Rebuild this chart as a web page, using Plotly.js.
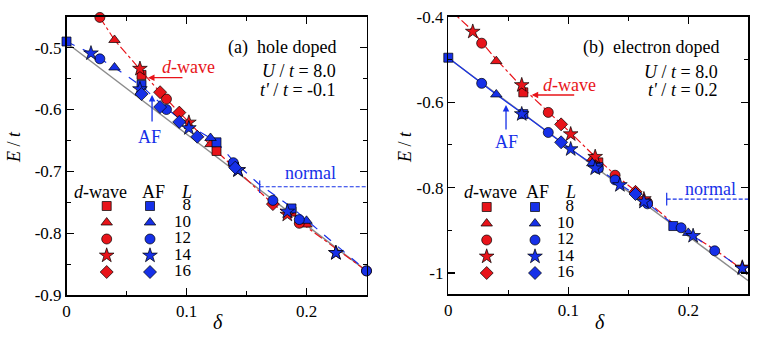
<!DOCTYPE html>
<html>
<head>
<meta charset="utf-8">
<script src="https://cdn.plot.ly/plotly-3.0.1.min.js"></script>
<style>
  body { margin: 0; background: #fff; }
  #chart { width: 763px; height: 350px; }
</style>
</head>
<body>
<div id="chart"></div>
<script>
// ---- data ----
// (a) hole doped, d-wave (red) by system size L
const holeDwaveL8 = { d: [0.0625, 0.125, 0.1875], e: [-0.544, -0.667, -0.765] };
const holeDwaveL10 = { d: [0.04, 0.12, 0.2], e: [-0.4875, -0.656, -0.786] };
const holeDwaveL12 = { d: [0.0278, 0.0833, 0.139, 0.194, 0.25], e: [-0.451, -0.583, -0.688, -0.784, -0.861] };
const holeDwaveL14 = { d: [0.0612, 0.102, 0.143, 0.184, 0.2245], e: [-0.534, -0.621, -0.698, -0.770, -0.832] };
const holeDwaveL16 = { d: [0.078, 0.094, 0.172], e: [-0.572, -0.605, -0.753] };
// (a) hole doped, AF (blue)
const holeAfL8 = { d: [0, 0.0625, 0.125, 0.1875], e: [-0.49, -0.560, -0.653, -0.760] };
const holeAfL10 = { d: [0.04, 0.12, 0.2], e: [-0.532, -0.646, -0.780] };
const holeAfL12 = { d: [0.0278, 0.0833, 0.139, 0.172, 0.194, 0.25], e: [-0.518, -0.600, -0.686, -0.747, -0.778, -0.861] };
const holeAfL14 = { d: [0.0204, 0.0612, 0.102, 0.143, 0.184, 0.2245], e: [-0.509, -0.567, -0.630, -0.698, -0.765, -0.832] };
const holeAfL16 = { d: [0.0625, 0.078, 0.094, 0.109, 0.1406], e: [-0.575, -0.596, -0.620, -0.644, -0.694] };
// (a) fitted curves
const holeGray = { d: [0, 0.25], e: [-0.492, -0.861] };
const holeAfFit = { d: [0, 0.0204, 0.0278, 0.04, 0.0625, 0.083, 0.102, 0.125, 0.139, 0.16, 0.1875, 0.2, 0.2245, 0.25],
                    e: [-0.49, -0.509, -0.518, -0.532, -0.562, -0.598, -0.626, -0.652, -0.683, -0.720, -0.758, -0.779, -0.819, -0.861] };
const holeDwaveFit = { d: [0.0278, 0.04, 0.0625, 0.078, 0.094, 0.102, 0.12, 0.14, 0.172, 0.2, 0.25],
                       e: [-0.451, -0.4875, -0.538, -0.572, -0.605, -0.620, -0.658, -0.695, -0.753, -0.790, -0.861] };
const holeNormal = { d: [0.161, 0.2537], e: [-0.725, -0.725] };

// (b) electron doped, d-wave (red)
const elDwaveL8 = { d: [0.0625, 0.125], e: [-0.577, -0.741] };
const elDwaveL10 = { d: [0.04, 0.12], e: [-0.504, -0.732] };
const elDwaveL12 = { d: [0.0278, 0.0833, 0.139, 0.166], e: [-0.462, -0.624, -0.771, -0.835] };
const elDwaveL14 = { d: [0.0204, 0.0612, 0.102, 0.1224, 0.163, 0.245], e: [-0.435, -0.560, -0.675, -0.728, -0.827, -0.987] };
const elDwaveL16 = { d: [0.094, 0.156], e: [-0.652, -0.810] };
// (b) electron doped, AF (blue)
const elAfL8 = { d: [0, 0.0625, 0.125, 0.1875], e: [-0.496, -0.628, -0.752, -0.890] };
const elAfL10 = { d: [0.04, 0.12, 0.2], e: [-0.582, -0.743, -0.906] };
const elAfL12 = { d: [0.0278, 0.0833, 0.125, 0.139, 0.166, 0.194, 0.222], e: [-0.556, -0.671, -0.755, -0.782, -0.838, -0.894, -0.948] };
const elAfL14 = { d: [0.0612, 0.102, 0.1224, 0.143, 0.163, 0.204, 0.245], e: [-0.628, -0.710, -0.755, -0.794, -0.833, -0.913, -0.989] };
const elAfL16 = { d: [0.094, 0.156], e: [-0.694, -0.815] };
// (b) fitted curves
const elGray = { d: [0, 0.25], e: [-0.497, -1.018] };
const elAfFitSolid = { d: [0, 0.0278, 0.04, 0.0625, 0.0833, 0.094, 0.102, 0.12], e: [-0.496, -0.556, -0.582, -0.628, -0.671, -0.694, -0.710, -0.745] };
const elAfFitDash = { d: [0.12, 0.143, 0.166, 0.1875, 0.2, 0.222, 0.25], e: [-0.745, -0.792, -0.836, -0.887, -0.906, -0.946, -1.0] };
const elDwaveFit = { d: [0, 0.0204, 0.0278, 0.04, 0.0625, 0.0833, 0.094, 0.102, 0.1224, 0.139, 0.156, 0.166, 0.1875, 0.222, 0.25],
                     e: [-0.38, -0.433, -0.46, -0.5, -0.568, -0.622, -0.65, -0.672, -0.728, -0.77, -0.808, -0.832, -0.884, -0.945, -1.002] };
const elNormal = { d: [0.182, 0.2537], e: [-0.827, -0.827] };

const sizesL = [8, 10, 12, 14, 16];
const symbolsL = ['square', 'triangle-up', 'circle', 'star', 'diamond'];
const markerSize = [9, 10, 10, 11, 10];
const xTickVals = [0, 0.1, 0.2];
const xTickText = ['0', '0.1', '0.2'];
const yTickValsA = [-0.9, -0.8, -0.7, -0.6, -0.5];
const yTickTextA = ['-0.9', '-0.8', '-0.7', '-0.6', '-0.5'];
const yTickValsB = [-1, -0.8, -0.6, -0.4];
const yTickTextB = ['-1', '-0.8', '-0.6', '-0.4'];

const RED = '#e8141a';
const BLUE = '#1630e8';
const GRAY = '#8c8c8c';
const FONT = '"Liberation Serif", "DejaVu Serif", serif';
const W = 763, H = 350;
const px = x => x / W;
const py = y => 1 - y / H;

const traces = [];

function line(s, xa, ya, color, dash, width) {
    traces.push({ x: s.d, y: s.e, xaxis: xa, yaxis: ya, mode: 'lines', type: 'scatter',
        line: { color: color, dash: dash, width: width }, hoverinfo: 'skip' });
}

function points(list, xa, ya, color) {
    list.forEach((s, i) => {
        traces.push({ x: s.d, y: s.e, xaxis: xa, yaxis: ya, mode: 'markers', type: 'scatter', cliponaxis: false,
            marker: { symbol: symbolsL[i], size: markerSize[i], color: color, opacity: 1,
                      line: { color: '#000', width: 0.7 } } });
    });
}

function normalBar(s, xa, ya) {
    traces.push({ x: s.d, y: s.e, xaxis: xa, yaxis: ya, mode: 'lines+markers', type: 'scatter', cliponaxis: false,
        line: { color: BLUE, dash: '4px,2px', width: 1.1 },
        marker: { symbol: 'line-ns-open', size: 9, color: BLUE, opacity: 1, line: { color: BLUE, width: 1.2 } } });
}

// panel (a)
line(holeGray, 'x', 'y', GRAY, 'solid', 1.5);
line(holeAfFit, 'x', 'y', BLUE, 'dash', 1.2);
line(holeDwaveFit, 'x', 'y', RED, 'dashdot', 1.2);
points([holeDwaveL8, holeDwaveL10, holeDwaveL12, holeDwaveL14, holeDwaveL16], 'x', 'y', RED);
points([holeAfL8, holeAfL10, holeAfL12, holeAfL14, holeAfL16], 'x', 'y', BLUE);
normalBar(holeNormal, 'x', 'y');

// panel (b)
line(elGray, 'x2', 'y2', GRAY, 'solid', 1.5);
line(elDwaveFit, 'x2', 'y2', RED, 'dashdot', 1.2);
line(elAfFitSolid, 'x2', 'y2', BLUE, 'solid', 1.2);
line(elAfFitDash, 'x2', 'y2', BLUE, 'dash', 1.2);
points([elDwaveL8, elDwaveL10, elDwaveL12, elDwaveL14, elDwaveL16], 'x2', 'y2', RED);
points([elAfL8, elAfL10, elAfL12, elAfL14, elAfL16], 'x2', 'y2', BLUE);
normalBar(elNormal, 'x2', 'y2');

// hand-made keys, placed in pixel coordinates on a hidden full-page axis
function key(xRed, xBlue, xNum, yTop) {
    const ys = sizesL.map((L, i) => yTop + 16.5 * i);
    traces.push({ x: sizesL.map(() => xRed), y: ys, xaxis: 'x3', yaxis: 'y3', mode: 'markers', type: 'scatter', cliponaxis: false,
        marker: { symbol: symbolsL, size: markerSize, color: RED, opacity: 1, line: { color: '#000', width: 0.7 } } });
    traces.push({ x: sizesL.map(() => xBlue), y: ys, xaxis: 'x3', yaxis: 'y3', mode: 'markers', type: 'scatter', cliponaxis: false,
        marker: { symbol: symbolsL, size: markerSize, color: BLUE, opacity: 1, line: { color: '#000', width: 0.7 } } });
    traces.push({ x: sizesL.map(() => xNum), y: ys, xaxis: 'x3', yaxis: 'y3', mode: 'text', type: 'scatter', cliponaxis: false,
        text: sizesL.map(String), textposition: 'middle left', textfont: { family: FONT, size: 17, color: '#000' } });
}
key(106.7, 150, 191, 206);
key(486.7, 535, 574, 207);

const axisBase = {
    showline: true, linecolor: '#000', linewidth: 1.5, mirror: 'allticks',
    ticks: 'inside', ticklen: 7, tickwidth: 1.2, tickcolor: '#000',
    showgrid: false, zeroline: false, tickmode: 'array',
    tickfont: { family: FONT, size: 17, color: '#000' }
};
const minorX = { ticks: 'inside', ticklen: 4, tickwidth: 1, tickcolor: '#000', tickmode: 'linear', tick0: 0, dtick: 0.05 };

function ann(text, x, y, opts) {
    return Object.assign({ text: text, x: px(x), y: py(y), xref: 'paper', yref: 'paper', showarrow: false,
        xanchor: 'center', yanchor: 'middle',
        font: { family: FONT, size: 18, color: '#000' } }, opts || {});
}
function arrow(xa, ya, d, e, ax, ay, color) {
    return { text: '', x: d, y: e, xref: xa, yref: ya, showarrow: true, ax: ax, ay: ay,
        arrowcolor: color, arrowwidth: 1.3, arrowhead: 2, arrowsize: 1 };
}

const annotations = [
    // panel (a)
    ann('(a)\u00a0 hole doped', 338, 48, { xanchor: 'right' }),
    ann('<i>U</i> / <i>t</i> = 8.0', 338, 71, { xanchor: 'right' }),
    ann("<i>t'</i> / <i>t</i> = -0.1", 338, 90, { xanchor: 'right' }),
    ann('<i>d</i>-wave', 188, 67, { font: { family: FONT, size: 18, color: RED } }),
    arrow('x', 'y', 0.0679, -0.5485, 36, 0, RED),
    ann('AF', 149, 137, { font: { family: FONT, size: 18, color: BLUE } }),
    arrow('x', 'y', 0.0713, -0.5766, 0, 28, BLUE),
    ann('normal', 310, 173, { font: { family: FONT, size: 18, color: BLUE } }),
    ann('<i>d</i>-wave', 100, 192),
    ann('AF', 153, 192),
    ann('<i>L</i>', 186, 192),
    ann('<i>E</i> / <i>t</i>', 14, 147, { textangle: -90 }),
    ann('<i>δ</i>', 218, 322, { font: { family: FONT, size: 20, color: '#000' } }),
    // panel (b)
    ann('(b)\u00a0 electron doped', 721, 47, { xanchor: 'right' }),
    ann('<i>U</i> / <i>t</i> = 8.0', 720, 72, { xanchor: 'right' }),
    ann("<i>t'</i> / <i>t</i> = 0.2", 720, 90, { xanchor: 'right' }),
    ann('<i>d</i>-wave', 569, 85, { font: { family: FONT, size: 18, color: RED } }),
    arrow('x2', 'y2', 0.0695, -0.5833, 44, 0, RED),
    ann('AF', 506, 142, { font: { family: FONT, size: 18, color: BLUE } }),
    arrow('x2', 'y2', 0.0481, -0.6067, 0, 26, BLUE),
    ann('normal', 710, 189, { font: { family: FONT, size: 18, color: BLUE } }),
    ann('<i>d</i>-wave', 490, 192),
    ann('AF', 537, 192),
    ann('<i>L</i>', 570, 192),
    ann('<i>E</i> / <i>t</i>', 405, 147, { textangle: -90 }),
    ann('<i>δ</i>', 600, 322, { font: { family: FONT, size: 20, color: '#000' } })
];

const layout = {
    width: W, height: H,
    margin: { l: 0, r: 0, t: 0, b: 0 },
    paper_bgcolor: '#fff', plot_bgcolor: 'rgba(0,0,0,0)',
    showlegend: false,
    font: { family: FONT, color: '#000' },
    xaxis: Object.assign({}, axisBase, { domain: [px(66.5), px(366.5)], range: [0, 0.25], anchor: 'y',
        tickvals: xTickVals, ticktext: xTickText, minor: minorX }),
    yaxis: Object.assign({}, axisBase, { domain: [py(295), py(16.8)], range: [-0.9, -0.45], anchor: 'x',
        tickvals: yTickValsA, ticktext: yTickTextA,
        minor: { ticks: 'inside', ticklen: 4, tickwidth: 1, tickcolor: '#000', tickmode: 'linear', tick0: -0.9, dtick: 0.05 } }),
    xaxis2: Object.assign({}, axisBase, { domain: [px(448.3), px(748.3)], range: [0, 0.25], anchor: 'y2',
        tickvals: xTickVals, ticktext: xTickText, minor: minorX }),
    yaxis2: Object.assign({}, axisBase, { domain: [py(294.4), py(16.7)], range: [-1.05, -0.4], anchor: 'x2',
        tickvals: yTickValsB, ticktext: yTickTextB,
        minor: { ticks: 'inside', ticklen: 4, tickwidth: 1, tickcolor: '#000', tickmode: 'linear', tick0: -1, dtick: 0.1 } }),
    xaxis3: { domain: [0, 1], range: [0, W], visible: false, anchor: 'y3', fixedrange: true },
    yaxis3: { domain: [0, 1], range: [H, 0], visible: false, anchor: 'x3', fixedrange: true },
    annotations: annotations
};

Plotly.newPlot('chart', traces, layout, { staticPlot: true });
</script>
</body>
</html>
